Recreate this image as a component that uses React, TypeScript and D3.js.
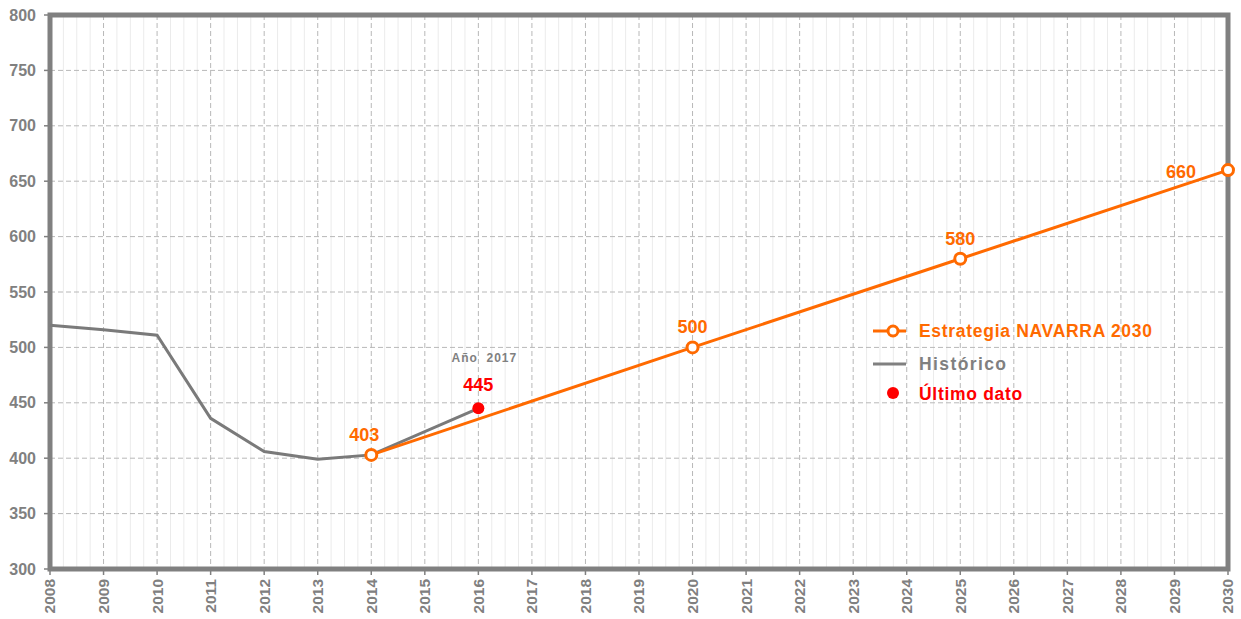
import { useEffect, useRef } from "react";
import * as d3 from "d3";

const years = d3.range(2008, 2031);
const yTicks = [300, 350, 400, 450, 500, 550, 600, 650, 700, 750, 800];

const historicYears = [2008, 2009, 2010, 2011, 2012, 2013, 2014, 2016];
const historicValues = [520, 516, 511, 436, 406, 399, 403, 445];

const targetYears = [2014, 2020, 2025, 2030];
const targetValues = [403, 500, 580, 660];

const lastYear = 2016;
const lastValue = 445;
const lastLabel = "Año  2017";

const ORANGE = "#ff6a00";
const GRAY = "#808080";
const RED = "#ff0000";

export default function App() {
  const svgRef = useRef<SVGSVGElement>(null);

  useEffect(() => {
    if (!svgRef.current) return;
    const svg = d3.select(svgRef.current);
    svg.selectAll("*").remove();

    const margin = { top: 15, right: 13, bottom: 50, left: 50 };
    const W = 1241, H = 619;
    const width = W - margin.left - margin.right;
    const height = H - margin.top - margin.bottom;

    const g = svg.append("g").attr("transform", `translate(${margin.left},${margin.top})`);

    const x = d3.scaleLinear().domain([2008, 2030]).range([0, width]);
    const y = d3.scaleLinear().domain([300, 800]).range([height, 0]);

    // minor vertical grid
    const minor = d3.range(2008, 2030, 0.25).filter(v => Math.abs(v - Math.round(v)) > 0.01);
    g.append("g").selectAll("line").data(minor).enter().append("line")
      .attr("x1", d => x(d)).attr("x2", d => x(d))
      .attr("y1", 0).attr("y2", height)
      .attr("stroke", "#ebebeb").attr("stroke-width", 1);

    // major grid
    g.append("g").selectAll("line").data(years.slice(1, -1)).enter().append("line")
      .attr("x1", d => x(d)).attr("x2", d => x(d))
      .attr("y1", 0).attr("y2", height)
      .attr("stroke", "#b8b8b8").attr("stroke-dasharray", "5,3");
    g.append("g").selectAll("line").data(yTicks.slice(1, -1)).enter().append("line")
      .attr("x1", 0).attr("x2", width)
      .attr("y1", d => y(d)).attr("y2", d => y(d))
      .attr("stroke", "#b8b8b8").attr("stroke-dasharray", "5,3");

    // frame
    g.append("rect").attr("width", width).attr("height", height)
      .attr("fill", "none").attr("stroke", GRAY).attr("stroke-width", 5);

    // y axis labels
    g.append("g").selectAll("text").data(yTicks).enter().append("text")
      .attr("x", -14).attr("y", d => y(d)).attr("dy", "0.35em")
      .attr("text-anchor", "end")
      .style("font-size", "16px").style("font-weight", "bold").style("fill", GRAY)
      .text(d => d);
    g.append("g").selectAll("line").data(yTicks).enter().append("line")
      .attr("x1", -6).attr("x2", 0).attr("y1", d => y(d)).attr("y2", d => y(d))
      .attr("stroke", GRAY).attr("stroke-width", 1.5);

    // x axis labels
    g.append("g").selectAll("text").data(years).enter().append("text")
      .attr("transform", d => `translate(${x(d)},${height + 10}) rotate(-90)`)
      .attr("dy", "0.35em")
      .attr("text-anchor", "end")
      .style("font-size", "15.5px").style("font-weight", "bold").style("fill", GRAY)
      .text(d => d);
    g.append("g").selectAll("line").data(years).enter().append("line")
      .attr("x1", d => x(d)).attr("x2", d => x(d)).attr("y1", height).attr("y2", height + 6)
      .attr("stroke", GRAY).attr("stroke-width", 1.5);

    const line = d3.line<[number, number]>().x(d => x(d[0])).y(d => y(d[1]));

    // historic
    g.append("path")
      .attr("d", line(historicYears.map((yr, i) => [yr, historicValues[i]] as [number, number])))
      .attr("fill", "none").attr("stroke", "#7a7a7a").attr("stroke-width", 3);

    // target
    const tdata = targetYears.map((yr, i) => [yr, targetValues[i]] as [number, number]);
    g.append("path").attr("d", line(tdata))
      .attr("fill", "none").attr("stroke", ORANGE).attr("stroke-width", 3);
    g.append("g").selectAll("circle").data(tdata).enter().append("circle")
      .attr("cx", d => x(d[0])).attr("cy", d => y(d[1])).attr("r", 5.5)
      .attr("fill", "#fff").attr("stroke", ORANGE).attr("stroke-width", 3);
    g.append("g").selectAll("text").data(tdata).enter().append("text")
      .attr("x", d => d[0] === 2030 ? x(d[0]) - 47 : d[0] === 2014 ? x(d[0]) - 7 : x(d[0]))
      .attr("y", d => d[0] === 2030 ? y(d[1]) + 8 : y(d[1]) - 14)
      .attr("text-anchor", "middle")
      .style("font-size", "18px").style("font-weight", "bold").style("fill", ORANGE)
      .text(d => d[1]);

    // last data point
    g.append("circle").attr("cx", x(lastYear)).attr("cy", y(lastValue)).attr("r", 6).attr("fill", RED);
    g.append("text").attr("x", x(lastYear)).attr("y", y(lastValue) - 17)
      .attr("text-anchor", "middle")
      .style("font-size", "18px").style("font-weight", "bold").style("fill", RED)
      .text(lastValue);
    g.append("text").attr("x", x(lastYear) + 6).attr("y", y(lastValue) - 46)
      .attr("text-anchor", "middle")
      .style("font-size", "12px").style("font-weight", "bold").style("fill", GRAY)
      .style("letter-spacing", "1px").style("white-space", "pre")
      .text(lastLabel);

    // legend
    const lg = svg.append("g").attr("transform", "translate(873,331)");
    const legendText = (sel: any) => sel
      .style("font-size", "17.5px").style("font-weight", "bold").style("letter-spacing", "0.7px");
    lg.append("line").attr("x1", 0).attr("x2", 33).attr("stroke", ORANGE).attr("stroke-width", 3);
    lg.append("circle").attr("cx", 20).attr("r", 5).attr("fill", "#fff").attr("stroke", ORANGE).attr("stroke-width", 3);
    lg.append("text").attr("x", 46).attr("dy", "0.35em").style("fill", ORANGE)
      .call(legendText).text("Estrategia NAVARRA 2030");
    lg.append("line").attr("x1", 0).attr("x2", 33).attr("y1", 33).attr("y2", 33)
      .attr("stroke", GRAY).attr("stroke-width", 3);
    lg.append("text").attr("x", 46).attr("y", 33).attr("dy", "0.35em").style("fill", GRAY)
      .call(legendText).style("letter-spacing", "1.4px").text("Histórico");
    lg.append("circle").attr("cx", 20).attr("cy", 62).attr("r", 6).attr("fill", RED);
    lg.append("text").attr("x", 46).attr("y", 63).attr("dy", "0.35em").style("fill", RED)
      .call(legendText).text("Último dato");
  }, []);

  return (
    <div style={{ position: "absolute", left: 0, top: 0 }}>
      <svg ref={svgRef} width={1241} height={619}
        style={{ display: "block", fontFamily: "'Liberation Sans', Arial, sans-serif", background: "#fff" }} />
    </div>
  );
}
